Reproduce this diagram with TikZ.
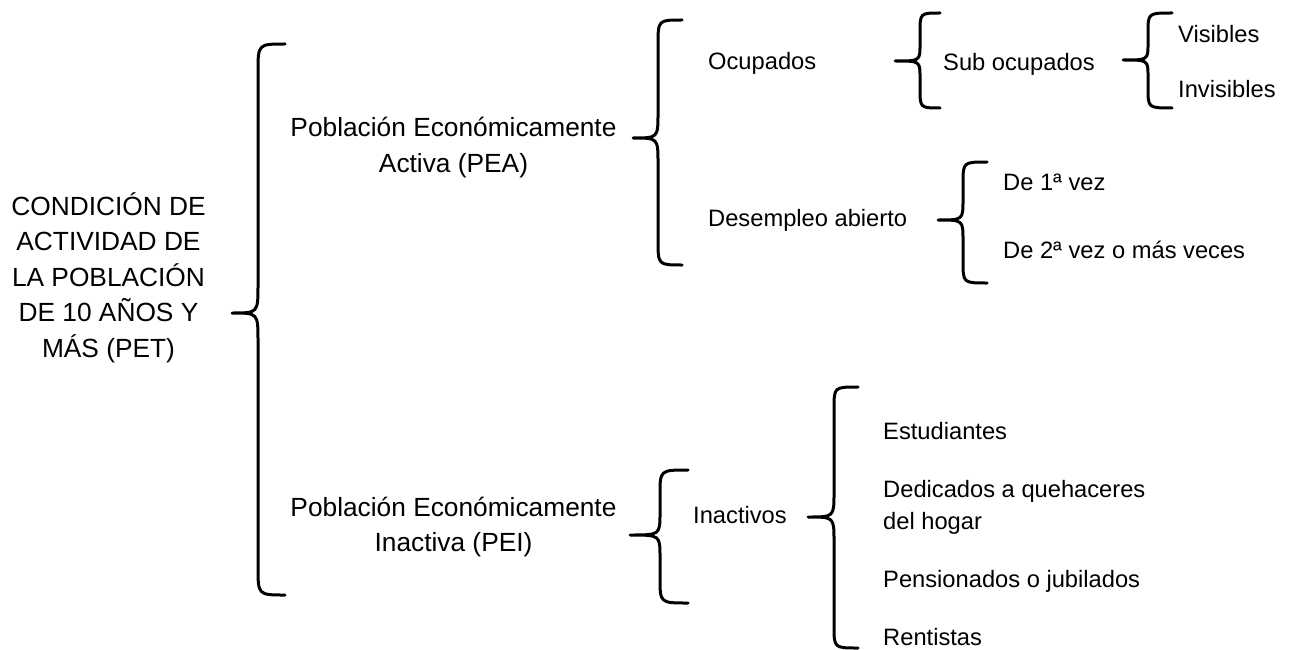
\documentclass[tikz,border=0pt]{standalone}
\usepackage{fontspec}
\setmainfont{Liberation Sans}
\newcommand{\cbrace}[8]{% tip x, tip y, vertical x, end x, top y, bottom y, end r, tip r
  \draw[bracestyle] (#4,#5) .. controls (#3,#5) .. (#3,#5+#7) -- (#3,#2-#8)
    .. controls (#3,#2) .. (#1,#2) .. controls (#3,#2) .. (#3,#2+#8)
    -- (#3,#6-#7) .. controls (#3,#6) .. (#4,#6);}
\begin{document}
\begin{tikzpicture}[x=1pt,y=-1pt,
  bracestyle/.style={line width=3pt,line cap=round,line join=round},
  big/.style={font=\fontsize{26.3}{35.5}\selectfont,inner sep=0pt,align=center},
  small/.style={font=\fontsize{23.7}{32}\selectfont,inner sep=0pt,align=left}]
\useasboundingbox (0,0) rectangle (1292,650);
% texts
\node[big] (pet) at (108.5,277.7) {CONDICIÓN DE\\ACTIVIDAD DE\\LA POBLACIÓN\\DE 10 AÑOS Y\\MÁS (PET)};
\node[big] (pea) at (453.5,147.3) {Población Económicamente\\Activa (PEA)};
\node[big] (pei) at (453.5,527.2) {Población Económicamente\\Inactiva (PEI)};
\node[small,anchor=base west] (ocu) at (708,70) {Ocupados};
\node[small,anchor=base west] (des) at (708,226) {Desempleo abierto};
\node[small,anchor=base west] (sub) at (943,71) {Sub ocupados};
\node[small,anchor=base west] (vis) at (1178,43) {Visibles};
\node[small,anchor=base west] (inv) at (1178,98) {Invisibles};
\node[small,anchor=base west] (d1) at (1003,190) {De 1ª vez};
\node[small,anchor=base west] (d2) at (1003,258) {De 2ª vez o más veces};
\node[small,anchor=base west] (ina) at (693,523) {Inactivos};
\node[small,anchor=base west] (est) at (883,439) {Estudiantes};
\node[small,anchor=west] (ded) at (883,506.9) {Dedicados a quehaceres\\del hogar};
\node[small,anchor=base west] (pen) at (883,587) {Pensionados o jubilados};
\node[small,anchor=base west] (ren) at (883,645) {Rentistas};
% braces
\cbrace{232}{313}{258}{285}{44}{595}{28}{28}
\cbrace{633}{138}{658}{682}{20}{265}{25}{25}
\cbrace{895}{61}{920}{940}{13}{108}{20}{16}
\cbrace{1123}{60}{1148}{1172}{13}{108}{20}{16}
\cbrace{938}{220}{963}{987}{162}{283}{22}{20}
\cbrace{630}{535}{660}{688}{470}{603}{25}{22}
\cbrace{808}{517}{834}{858}{387}{648}{22}{24}
\end{tikzpicture}
\end{document}
